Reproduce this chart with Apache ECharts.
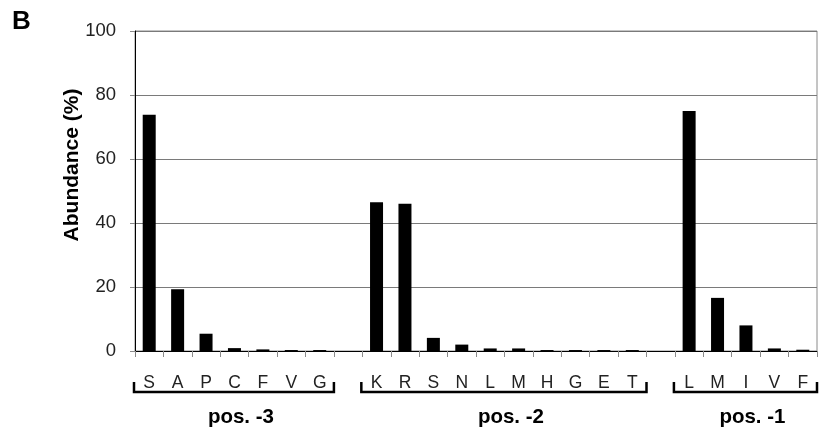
<!DOCTYPE html>
<html>
<head>
<meta charset="utf-8">
<script src="https://cdn.jsdelivr.net/npm/echarts@6/dist/echarts.min.js"></script>
<style>
  html, body { margin: 0; padding: 0; background: #fff; }
  #chart { width: 819px; height: 432px; }
</style>
</head>
<body>
<div id="chart"></div>
<script>
// Residue abundance (%) at positions -3, -2 and -1
const pos3Residues = ['S', 'A', 'P', 'C', 'F', 'V', 'G'];
const pos3Values   = [73.8, 19.3, 5.4, 0.9, 0.5, 0.3, 0.3];

const pos2Residues = ['K', 'R', 'S', 'N', 'L', 'M', 'H', 'G', 'E', 'T'];
const pos2Values   = [46.5, 46.0, 4.1, 2.0, 0.8, 0.8, 0.3, 0.3, 0.3, 0.3];

const pos1Residues = ['L', 'M', 'I', 'V', 'F'];
const pos1Values   = [75.0, 16.6, 8.0, 0.8, 0.4];

const groupNames = ['pos. -3', 'pos. -2', 'pos. -1'];
const yTicks = { min: 0, max: 100, interval: 20 };

const FONT = '"Liberation Sans", Arial, sans-serif';

// Build one category axis with an empty slot between the groups
const groups = [
  { residues: pos3Residues, values: pos3Values },
  { residues: pos2Residues, values: pos2Values },
  { residues: pos1Residues, values: pos1Values }
];
const categories = [];
const values = [];
const groupRanges = [];
groups.forEach((g, gi) => {
  if (gi > 0) { categories.push('gap' + gi); values.push(null); }
  const start = categories.length;
  g.residues.forEach((r, i) => {
    categories.push('c' + categories.length);
    values.push(g.values[i]);
  });
  groupRanges.push([start, categories.length - 1]);
});
const labelOf = {};
groups.forEach((g, gi) => {
  g.residues.forEach((r, i) => { labelOf[categories[groupRanges[gi][0] + i]] = r; });
});

const chart = echarts.init(document.getElementById('chart'), null, { renderer: 'canvas' });

const option = {
  animation: false,
  backgroundColor: '#fff',
  grid: {
    left: 135, right: 2, top: 31, bottom: 81,
    show: true, borderColor: '#8a8a8a', borderWidth: 1
  },
  xAxis: {
    type: 'category',
    data: categories,
    boundaryGap: true,
    axisLine: { show: true, lineStyle: { color: '#000', width: 1 } },
    axisTick: { show: true, interval: 0, length: 6, lineStyle: { color: '#8a8a8a' } },
    axisLabel: {
      interval: 0, margin: 23,
      fontFamily: FONT, fontSize: 17.5, color: '#222',
      formatter: v => labelOf[v] || ''
    },
    splitLine: { show: false }
  },
  yAxis: {
    type: 'value',
    min: yTicks.min, max: yTicks.max, interval: yTicks.interval,
    name: 'Abundance (%)',
    nameLocation: 'middle',
    nameGap: 52,
    nameMoveOverlap: false,
    nameTextStyle: {
      fontFamily: FONT, fontSize: 21, fontWeight: 'bold', color: '#000',
      padding: [0, 0, 0, 52]
    },
    axisLine: { show: true, lineStyle: { color: '#000', width: 1 } },
    axisTick: { show: true, length: 5, lineStyle: { color: '#8a8a8a' } },
    axisLabel: { margin: 19, fontFamily: FONT, fontSize: 18.5, color: '#222' },
    splitLine: { show: true, lineStyle: { color: '#7a7a7a', width: 1 } }
  },
  series: [{
    type: 'bar',
    data: values,
    barWidth: 13,
    itemStyle: { color: '#000' },
    silent: true
  }]
};
chart.setOption(option);

// Brackets and group names under the residue letters
function drawGroups() {
  const graphics = [{
    type: 'text', left: 12, top: 9,
    style: { text: 'B', font: 'bold 26px ' + FONT, fill: '#000' }
  }];
  const step = chart.convertToPixel({ xAxisIndex: 0 }, categories[1]) -
               chart.convertToPixel({ xAxisIndex: 0 }, categories[0]);
  const yLine = 392, yEnd = 382;
  groupRanges.forEach((rg, gi) => {
    const x0 = chart.convertToPixel({ xAxisIndex: 0 }, categories[rg[0]]) - step / 2 - 1;
    const x1 = chart.convertToPixel({ xAxisIndex: 0 }, categories[rg[1]]) + step / 2;
    graphics.push({
      type: 'polyline',
      shape: { points: [[x0, yEnd], [x0, yLine], [x1, yLine], [x1, yEnd]] },
      style: { stroke: '#000', lineWidth: 2.5, fill: null }
    });
    graphics.push({
      type: 'text',
      x: (x0 + x1) / 2 + 7, y: 417,
      style: {
        text: groupNames[gi], font: 'bold 20.5px ' + FONT, fill: '#000',
        align: 'center', verticalAlign: 'middle'
      }
    });
  });
  chart.setOption({ graphic: graphics });
}
drawGroups();
</script>
</body>
</html>
